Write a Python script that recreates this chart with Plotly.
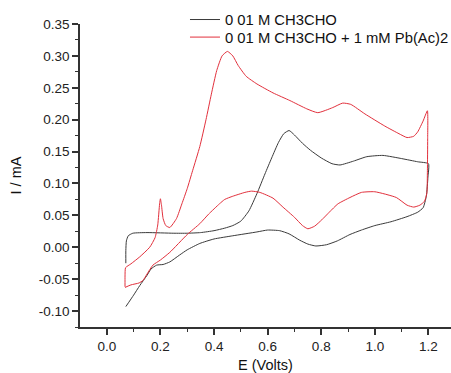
import plotly.graph_objects as go

# Black: 0.01 M CH3CHO
E_black = [0.071, 0.071, 0.073, 0.08, 0.097, 0.15, 0.25, 0.30, 0.35, 0.40, 0.44, 0.47, 0.50, 0.53,
           0.56, 0.59, 0.615, 0.64, 0.66, 0.68, 0.70, 0.73, 0.76, 0.80, 0.84, 0.87, 0.92, 0.97, 1.03,
           1.10, 1.16, 1.20, 1.198, 1.192, 1.18, 1.16, 1.12, 1.06, 1.00, 0.95, 0.907, 0.86, 0.82, 0.78,
           0.75, 0.72, 0.68, 0.645, 0.60, 0.56, 0.47, 0.40, 0.347, 0.30, 0.272, 0.235, 0.21, 0.186,
           0.165, 0.15, 0.123, 0.10, 0.071]
I_black = [-0.025, -0.005, 0.010, 0.018, 0.022, 0.023, 0.022, 0.022, 0.023, 0.026, 0.030, 0.034, 0.041, 0.057,
           0.084, 0.115, 0.140, 0.164, 0.178, 0.183, 0.176, 0.163, 0.152, 0.140, 0.131, 0.129, 0.135, 0.142, 0.144,
           0.139, 0.134, 0.131, 0.110, 0.080, 0.062, 0.055, 0.048, 0.040, 0.034, 0.027, 0.020, 0.010, 0.004, 0.002,
           0.005, 0.011, 0.021, 0.026, 0.027, 0.024, 0.018, 0.013, 0.006, -0.004, -0.012, -0.023, -0.027, -0.028,
           -0.034, -0.044, -0.060, -0.075, -0.093]

# Red: 0.01 M CH3CHO + 1 mM Pb(Ac)2
E_red = [0.068, 0.068, 0.070, 0.09, 0.123, 0.16, 0.18, 0.19, 0.197, 0.200, 0.204, 0.21, 0.22, 0.235, 0.26,
         0.28, 0.30, 0.32, 0.347, 0.37, 0.39, 0.41, 0.43, 0.45, 0.47, 0.49, 0.52, 0.56, 0.62, 0.683, 0.746, 0.787,
         0.843, 0.88, 0.91, 0.963, 1.037, 1.09, 1.12, 1.145, 1.16, 1.18, 1.196, 1.197, 1.196, 1.194, 1.185,
         1.168, 1.145, 1.12, 1.08, 1.00, 0.95, 0.907, 0.862, 0.83, 0.802, 0.775, 0.75, 0.73, 0.70, 0.657,
         0.62, 0.571, 0.54, 0.515, 0.47, 0.44, 0.42, 0.38, 0.347, 0.30, 0.235, 0.20, 0.172, 0.15, 0.135,
         0.12, 0.09, 0.068]
I_red = [-0.062, -0.045, -0.032, -0.026, -0.015, 0.000, 0.015, 0.035, 0.068, 0.076, 0.066, 0.045, 0.034, 0.031, 0.045,
         0.068, 0.092, 0.120, 0.158, 0.200, 0.240, 0.277, 0.300, 0.307, 0.300, 0.285, 0.268, 0.256, 0.242, 0.230, 0.217, 0.211,
         0.219, 0.226, 0.224, 0.209, 0.190, 0.178, 0.172, 0.174, 0.181, 0.198, 0.214, 0.170, 0.120, 0.085, 0.072,
         0.066, 0.063, 0.066, 0.078, 0.087, 0.086, 0.078, 0.068, 0.055, 0.043, 0.033, 0.029, 0.034, 0.047, 0.063,
         0.077, 0.086, 0.088, 0.086, 0.080, 0.075, 0.068, 0.052, 0.037, 0.020, -0.008, -0.020, -0.028, -0.042, -0.052,
         -0.056, -0.059, -0.063]

names = ["0 01 M CH3CHO", "0 01 M CH3CHO + 1 mM Pb(Ac)2"]
x_ticks = [0.0, 0.2, 0.4, 0.6, 0.8, 1.0, 1.2]
y_ticks = [-0.10, -0.05, 0.00, 0.05, 0.10, 0.15, 0.20, 0.25, 0.30, 0.35]

fig = go.Figure()
fig.add_trace(go.Scatter(x=E_black, y=I_black, mode="lines", name=names[0], legend="legend",
                         line=dict(color="#3a3a3a", width=1, shape="spline", smoothing=0.5)))
fig.add_trace(go.Scatter(x=E_red, y=I_red, mode="lines", name=names[1], legend="legend2",
                         line=dict(color="#e2303c", width=1, shape="spline", smoothing=0.5)))

font = "Liberation Sans, Arial, sans-serif"
leg_common = dict(xanchor="left", yanchor="top", bgcolor="rgba(0,0,0,0)",
                  font=dict(size=14.8, color="#111"), tracegroupgap=0, itemwidth=30)
fig.update_layout(
    width=451, height=373,
    margin=dict(l=80, r=0, t=24, b=46, autoexpand=False),
    paper_bgcolor="white", plot_bgcolor="white",
    font=dict(family=font, size=13, color="#222"),
    showlegend=True,
    legend=dict(x=0.283, y=1.068, **leg_common),
    legend2=dict(x=0.283, y=1.010, **leg_common),
    xaxis=dict(range=[-0.1, 1.284], tickvals=x_ticks, ticktext=[f"{v:.1f}" for v in x_ticks],
               showgrid=False, zeroline=False, showline=True, linecolor="#333", linewidth=1.5,
               ticks="outside", ticklen=6, tickwidth=1.5, tickcolor="#333",
               tickfont=dict(size=13.5, color="#222"),
               minor=dict(tickvals=[0.1, 0.3, 0.5, 0.7, 0.9, 1.1], ticks="outside", ticklen=3,
                          tickwidth=1.2, tickcolor="#333"),
               title=dict(text="E (Volts)", font=dict(size=14.5, color="#111"), standoff=10)),
    yaxis=dict(range=[-0.125, 0.35], tickvals=y_ticks, ticktext=[f"{v:.2f}" for v in y_ticks],
               showgrid=False, zeroline=False, showline=True, linecolor="#333", linewidth=1.5,
               ticks="outside", ticklen=6, tickwidth=1.5, tickcolor="#333",
               tickfont=dict(size=13.5, color="#222"),
               minor=dict(tickvals=[-0.125 + 0.05 * k for k in range(10)], ticks="outside", ticklen=3,
                          tickwidth=1.2, tickcolor="#333"),
               title=dict(text="I / mA", font=dict(size=14.5, color="#111"), standoff=14)),
)

fig.write_html("out.html")
